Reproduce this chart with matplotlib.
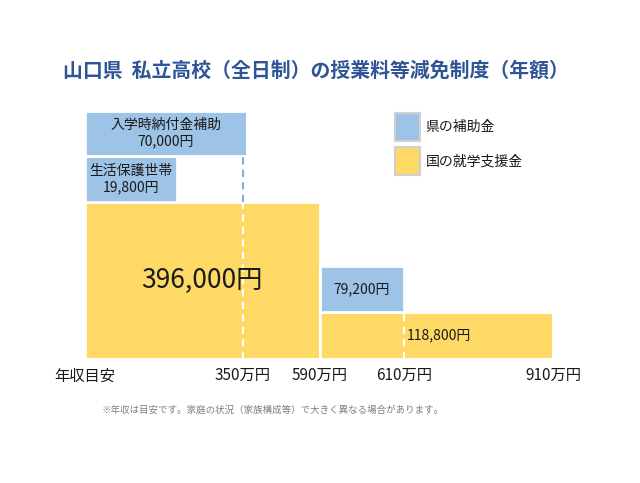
import matplotlib
matplotlib.use('Agg')
import matplotlib.pyplot as plt
from matplotlib.patches import Patch

plt.rcParams['font.family'] = ['Noto Sans CJK JP', 'DejaVu Sans']

# --- data ---
income_labels = ['年収目安', '350万円', '590万円', '610万円', '910万円']
national_values = [396000, 118800]          # 国の就学支援金
national_spans = [(0, 2), (2, 4)]           # index into income_labels
pref_titles = ['生活保護世帯', '入学時納付金補助', '']
pref_values = [19800, 70000, 79200]         # 県の補助金

# --- layout (not data) ---
edge_pos = [0, 158, 234.5, 319, 468]        # where each threshold sits on the axis
pref_right = [92, 162, None]                # label box widths for the left boxes
box_h = 115000                              # drawn height of a 県 box
yellow = '#FFD966'
blue = '#9DC3E6'
txt = '#1a1a1a'

fig = plt.figure(figsize=(6.4, 4.83), dpi=100)
ax = fig.add_axes([85 / 640, (483 - 359) / 483, 470 / 640, 258 / 483])
ax.set_xlim(0, 470)
ax.set_ylim(0, 650000)

# national support bars
for (a, b), v in zip(national_spans, national_values):
	ax.bar(edge_pos[a], v, width=edge_pos[b] - edge_pos[a], align='edge',
		   color=yellow, edgecolor='white', linewidth=2)

ax.text((edge_pos[0] + edge_pos[2]) / 2, national_values[0] / 2,
		f'{national_values[0]:,}円', ha='center', va='center', fontsize=19, color=txt)
ax.text(edge_pos[3] + 3, national_values[1] / 2, f'{national_values[1]:,}円',
		ha='left', va='center', fontsize=10, color=txt)

# prefecture boxes
boxes = [
	(edge_pos[0], pref_right[0], national_values[0]),
	(edge_pos[0], pref_right[1], national_values[0] + box_h),
	(edge_pos[2], edge_pos[3], national_values[1]),
]
for (x0, x1, bottom), title, v in zip(boxes, pref_titles, pref_values):
	ax.bar(x0, box_h, width=x1 - x0, bottom=bottom, align='edge',
		   color=blue, edgecolor='white', linewidth=2)
	label = f'{title}\n{v:,}円' if title else f'{v:,}円'
	ax.text((x0 + x1) / 2, bottom + box_h / 2, label, ha='center', va='center',
			fontsize=10, color=txt, linespacing=1.2)

# dashed dividers
ax.plot([edge_pos[1]] * 2, [0, national_values[0]], color='white', lw=1.5,
		dashes=(3.5, 2.5))
ax.plot([edge_pos[1]] * 2, [national_values[0], national_values[0] + box_h],
		color='#8EA9DB', lw=1.5, dashes=(3.5, 2.5))
ax.plot([edge_pos[3]] * 2, [0, national_values[1]], color='white', lw=1.5,
		dashes=(3.5, 2.5))

ax.set_xticks(edge_pos)
ax.set_xticklabels(income_labels, fontsize=11, color=txt)
ax.tick_params(axis='x', length=0, pad=6)
ax.set_yticks([])
for s in ax.spines.values():
	s.set_visible(False)

handles = [Patch(facecolor=blue, edgecolor='#D0D0D0', linewidth=1.5),
		   Patch(facecolor=yellow, edgecolor='#D0D0D0', linewidth=1.5)]
fig.legend(handles, ['県の補助金', '国の就学支援金'], loc='upper left',
		   bbox_to_anchor=(395 / 640, 1 - 113 / 483), frameon=False, fontsize=10,
		   borderpad=0, borderaxespad=0, handlelength=1.8, handleheight=2.7,
		   labelspacing=0.45, handletextpad=0.4, labelcolor=txt)

fig.text(316 / 640, 1 - 70 / 483, '山口県  私立高校（全日制）の授業料等減免制度（年額）',
		 ha='center', va='center', fontsize=14.3, fontweight='bold', color='#2F5597')
fig.text(102 / 640, 1 - 410 / 483,
		 '※年収は目安です。家庭の状況（家族構成等）で大きく異なる場合があります。',
		 ha='left', va='center', fontsize=6.8, color='#7F7F7F')

fig.savefig('out.png', dpi=100)
